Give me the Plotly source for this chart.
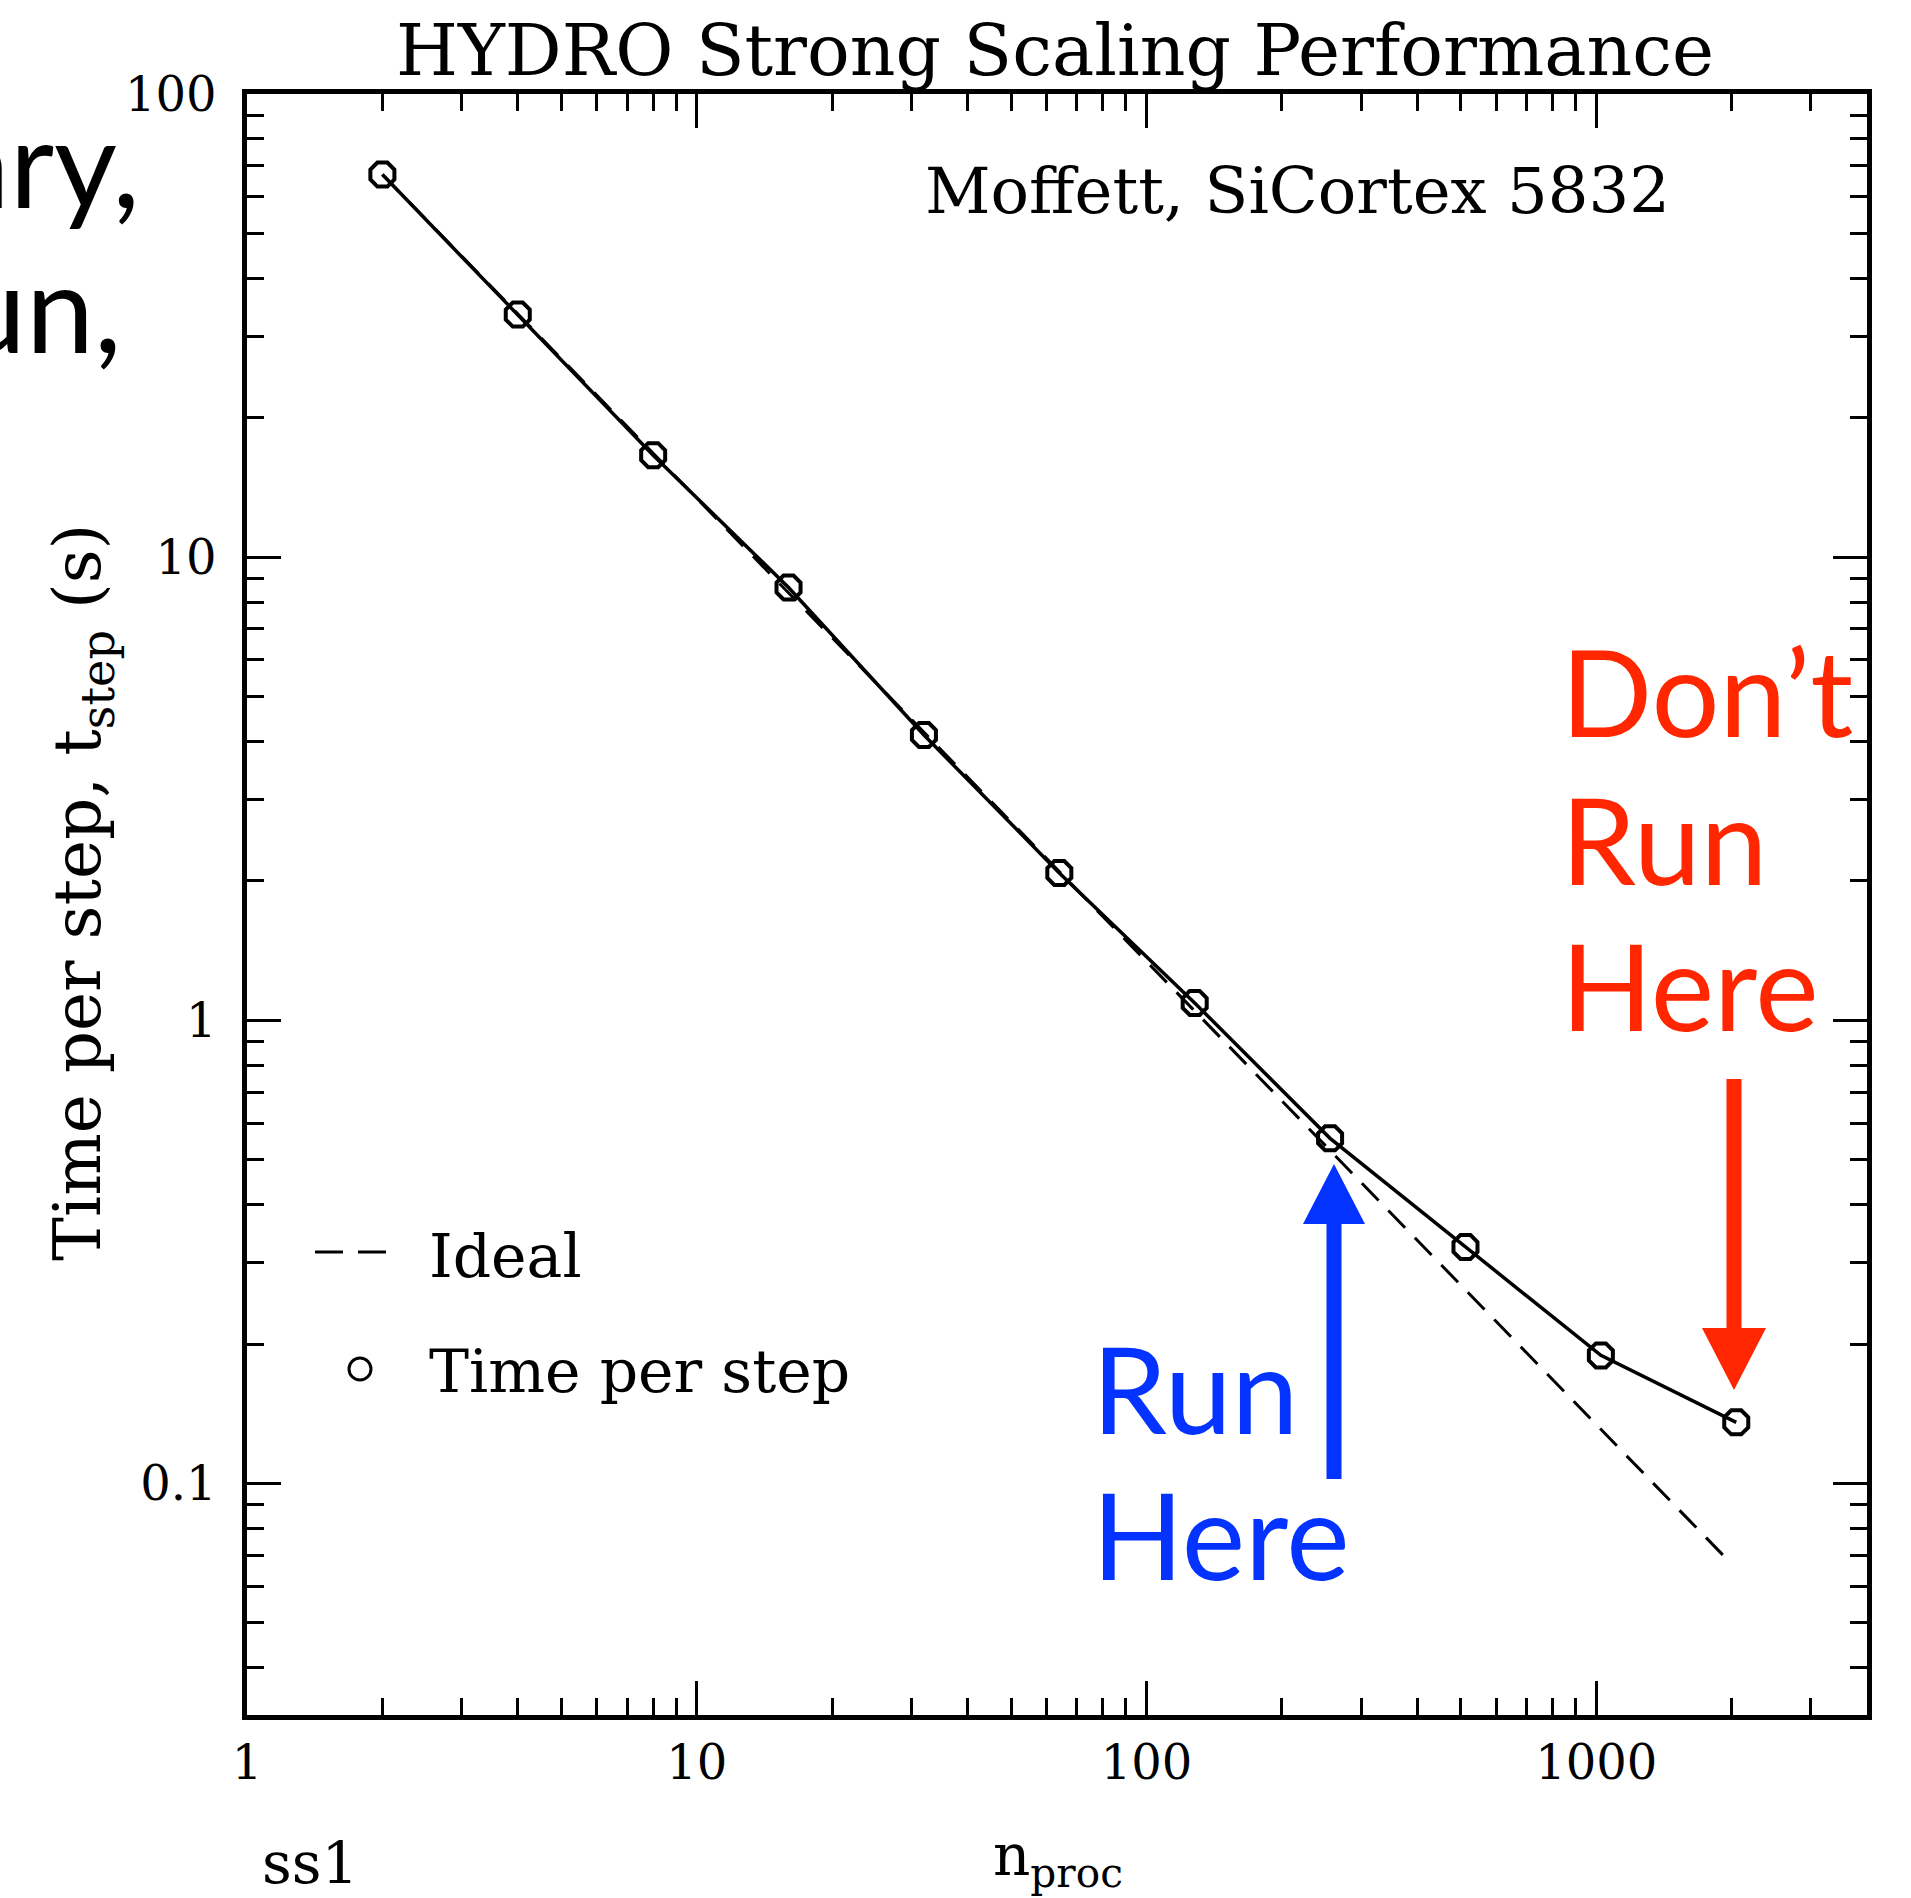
import plotly.graph_objects as go
import numpy as np

# ---------------- data ----------------
n_proc = [2, 4, 8, 16, 32, 64, 128, 256, 512, 1024, 2048]
t_step = [67.0, 33.4, 16.6, 8.6, 4.13, 2.08, 1.09, 0.556, 0.324, 0.189, 0.1355]

ideal_n = [2, 1920]
ideal_t = [67.0, 0.0698]

x_major = [1, 10, 100, 1000]
x_major_text = ["1", "10", "100", "1000"]
y_major = [0.1, 1, 10, 100]
y_major_text = ["0.1", "1", "10", "100"]

title_text = "HYDRO Strong Scaling Performance"
machine_text = "Moffett, SiCortex 5832"

# ---------------- geometry ----------------
W, H = 1911, 1898
L, R, T, B = 247, 1867, 94, 1715


def px_x(p):
    return (p - L) / (R - L)


def px_y(p):
    return (B - p) / (B - T)


x_minor = [m * 10 ** d for d in range(0, 4) for m in range(2, 10) if m * 10 ** d < 4000]
y_minor = [m * 10.0 ** d for d in range(-2, 2) for m in range(2, 10) if 0.0316 < m * 10.0 ** d < 100]

SERIF = "DejaVu Serif"
SANS = "Lato"
BLUE = "#0433FF"
RED = "#FF2600"

fig = go.Figure()

fig.add_trace(go.Scatter(
    x=ideal_n, y=ideal_t, mode="lines",
    line=dict(color="black", width=3, dash="24px,14px"),
    hoverinfo="skip", showlegend=False))

fig.add_trace(go.Scatter(
    x=n_proc, y=t_step, mode="lines+markers",
    line=dict(color="black", width=3.5),
    marker=dict(symbol="octagon-open", size=26, color="black",
                line=dict(color="black", width=4)),
    showlegend=False))

axis_common = dict(
    showline=True, linewidth=4.5, linecolor="black", mirror="allticks",
    ticks="inside", tickwidth=3, tickcolor="black", ticklen=34,
    showgrid=False, zeroline=False,
    tickfont=dict(family=SERIF, size=48, color="black"),
)

fig.update_xaxes(
    type="log", range=[0, np.log10(4000)],
    tickvals=x_major, ticktext=x_major_text,
    ticklabelstandoff=2,
    minor=dict(tickvals=x_minor, ticks="inside", ticklen=17, tickwidth=3,
               tickcolor="black", showgrid=False),
    **axis_common)

fig.update_yaxes(
    type="log", range=[-1.5, 2],
    tickvals=y_major, ticktext=y_major_text,
    ticklabelstandoff=16,
    minor=dict(tickvals=y_minor, ticks="inside", ticklen=17, tickwidth=3,
               tickcolor="black", showgrid=False),
    **axis_common)

ann = []


def add_text(text, x, y, size, family=SERIF, color="black", xanchor="center",
             yanchor="middle", textangle=0):
    ann.append(dict(text=text, x=px_x(x), y=px_y(y), xref="paper", yref="paper",
                    showarrow=False, xanchor=xanchor, yanchor=yanchor,
                    textangle=textangle,
                    font=dict(family=family, size=size, color=color)))


# title and labels
add_text(title_text, 1055, 75 - 0.346 * 71, 71)
add_text(machine_text, 1672, 213 - 0.346 * 64, 64, xanchor="right")
add_text("n<sub>proc</sub>", 1058, 1871 - 0.346 * 58 + 8, 58)
add_text("ss1", 260, 1883 - 0.346 * 58, 58, xanchor="left")
add_text("Time per step, t<sub>step</sub> (s)", 82, 893, 66, textangle=-90)

# legend
add_text("Ideal", 427, 1277 - 0.346 * 60, 60, xanchor="left")
add_text("Time per step", 427, 1392 - 0.346 * 60, 60, xanchor="left")

# slide texts
add_text("Run", 1090, 1434 - 0.387 * 120, 120, family=SANS, color=BLUE, xanchor="left")
add_text("Here", 1090, 1580 - 0.387 * 120, 120, family=SANS, color=BLUE, xanchor="left")
add_text("Don’t", 1559, 737 - 0.387 * 120, 120, family=SANS, color=RED, xanchor="left")
add_text("Run", 1559, 885 - 0.387 * 120, 120, family=SANS, color=RED, xanchor="left")
add_text("Here", 1559, 1031 - 0.387 * 120, 120, family=SANS, color=RED, xanchor="left")
add_text("ary,", 142, 208 - 0.387 * 122, 122, family=SANS, xanchor="right")
add_text("un,", 124, 353 - 0.387 * 122, 122, family=SANS, xanchor="right")

shapes = []
# legend samples
shapes.append(dict(type="line", xref="paper", yref="paper",
                   x0=px_x(315), x1=px_x(388), y0=px_y(1252), y1=px_y(1252),
                   line=dict(color="black", width=3, dash="28px,15px")))
shapes.append(dict(type="circle", xref="paper", yref="paper",
                   x0=px_x(349), x1=px_x(371), y0=px_y(1358), y1=px_y(1380),
                   line=dict(color="black", width=3)))


def arrow(xc, y_tail, y_base, y_tip, shaft_w, head_hw, color):
    shapes.append(dict(type="rect", xref="paper", yref="paper",
                       x0=px_x(xc - shaft_w / 2), x1=px_x(xc + shaft_w / 2),
                       y0=px_y(y_tail), y1=px_y(y_base),
                       fillcolor=color, line=dict(width=0)))
    path = "M {},{} L {},{} L {},{} Z".format(
        px_x(xc - head_hw), px_y(y_base), px_x(xc + head_hw), px_y(y_base),
        px_x(xc), px_y(y_tip))
    shapes.append(dict(type="path", xref="paper", yref="paper", path=path,
                       fillcolor=color, line=dict(width=0)))


arrow(1334, 1479, 1224, 1164, 15, 31, BLUE)
arrow(1734, 1079, 1328, 1390, 15, 32, RED)

fig.update_layout(
    width=W, height=H,
    margin=dict(l=L, r=W - R, t=T, b=H - B, pad=0),
    plot_bgcolor="white", paper_bgcolor="white",
    showlegend=False,
    annotations=ann, shapes=shapes,
)

fig.write_html("out.html", config={"displayModeBar": False},
               post_script="document.body.style.margin='0';")
